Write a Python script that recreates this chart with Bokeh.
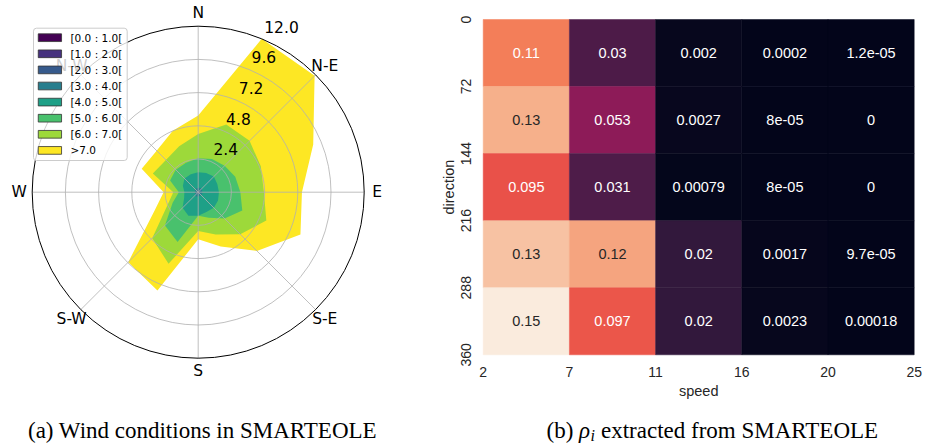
import math
from bokeh.plotting import figure
from bokeh.models import Range1d, LinearColorMapper, ColumnDataSource
from bokeh.core.properties import value
from bokeh.palettes import viridis
from bokeh.embed import file_html
from bokeh.resources import INLINE

# ---------------- (a) wind rose data ----------------
# 16 sectors, clockwise from North: N, NNE, NE, ENE, E, ESE, SE, SSE, S, SSW, SW, WSW, W, WNW, NW, NNW
bearings = [i * 22.5 for i in range(16)]
speed_bins = ["[0.0 : 1.0[", "[1.0 : 2.0[", "[2.0 : 3.0[", "[3.0 : 4.0[",
              "[4.0 : 5.0[", "[5.0 : 6.0[", "[6.0 : 7.0[", ">7.0"]
# cumulative frequency (%) up to the upper edge of each speed bin
cum_le1 = [0.01] * 16
cum_le2 = [0.04, 0.05, 0.05, 0.04, 0.04, 0.04, 0.04, 0.04, 0.04, 0.05, 0.04, 0.03, 0.03, 0.03, 0.04, 0.04]
cum_le3 = [0.12, 0.14, 0.14, 0.12, 0.12, 0.12, 0.12, 0.12, 0.12, 0.14, 0.12, 0.10, 0.10, 0.10, 0.12, 0.12]
cum_le4 = [0.30, 0.35, 0.35, 0.30, 0.30, 0.30, 0.30, 0.30, 0.30, 0.35, 0.30, 0.25, 0.25, 0.25, 0.30, 0.30]
cum_le5 = [1.45, 1.50, 1.60, 1.50, 1.50, 1.55, 1.60, 1.55, 1.70, 1.85, 1.60, 1.10, 1.00, 1.20, 1.40, 1.40]
cum_le6 = [2.45, 2.60, 2.70, 2.90, 3.05, 3.45, 2.70, 2.00, 1.70, 3.90, 3.40, 2.00, 1.40, 2.20, 2.30, 2.30]
cum_le7 = [4.20, 5.30, 5.25, 4.90, 4.75, 5.33, 4.30, 3.30, 2.80, 5.60, 4.70, 2.40, 1.80, 3.55, 3.30, 3.60]
cum_all = [5.55, 12.00, 11.90, 9.00, 7.50, 8.00, 6.00, 4.25, 3.40, 7.70, 7.15, 3.40, 2.50, 4.42, 4.25, 4.80]
radial_ticks = [2.4, 4.8, 7.2, 9.6, 12.0]
compass_labels = ["N", "N-E", "E", "S-E", "S", "S-W", "W", "N-W"]
compass_bearings = [0, 45, 90, 135, 180, 225, 270, 315]

# ---------------- (b) heatmap data ----------------
speed_edges = [2, 7, 11, 16, 20, 25]
direction_edges = [0, 72, 144, 216, 288, 360]
rho = [
    [0.110, 0.030, 0.0020, 0.00020, 1.2e-05],
    [0.127, 0.053, 0.0027, 8e-05, 0.0],
    [0.095, 0.031, 0.00079, 8e-05, 0.0],
    [0.134, 0.123, 0.020, 0.0017, 9.7e-05],
    [0.150, 0.097, 0.020, 0.0023, 0.00018],
]

# ---------------- canvas geometry (screen px) ----------------
W, H = 947, 447
CX, CY = 197.7, 191.7           # wind-rose centre
K = 166.0 / 12.0                # px per percent on the rose
HX0, HX1 = 482.7, 913.7         # heatmap cell area, left/right
HY0, HY1 = 19.0, 354.3          # heatmap cell area, top/bottom
CW = (HX1 - HX0) / 5.0
CH = (HY1 - HY0) / 5.0

p = figure(width=W, height=H,
           x_range=Range1d(-CX / K, (W - CX) / K),
           y_range=Range1d(-(H - CY) / K, CY / K),
           output_backend="svg", toolbar_location=None,
           x_axis_location=None, y_axis_location=None, min_border=0)
p.extra_x_ranges = {"hx": Range1d(-HX0 / CW, (W - HX0) / CW)}
p.extra_y_ranges = {"hy": Range1d(5 + (H - HY1) / CH, -HY0 / CH)}
p.grid.visible = False
p.outline_line_color = None
p.background_fill_color = "white"


def sx(px):   # screen px -> rose data x
    return (px - CX) / K


def sy(py):   # screen px -> rose data y
    return (CY - py) / K


def pol(r, b):
    a = math.radians(b)
    return r * math.sin(a), r * math.cos(a)


# ================= (a) wind rose =================
layers = [cum_le1, cum_le2, cum_le3, cum_le4, cum_le5, cum_le6, cum_le7, cum_all]
cols = viridis(8)
for vals, col in reversed(list(zip(layers, cols))):
    pts = [pol(r, b) for r, b in zip(vals, bearings)]
    p.patch([q[0] for q in pts], [q[1] for q in pts], fill_color=col, line_color=None)

rmax = radial_ticks[-1]
p.circle(x=[0] * 4, y=[0] * 4, radius=radial_ticks[:-1], fill_color=None,
         line_color="#b0b0b0", line_width=0.8)
ends = [pol(rmax, b) for b in compass_bearings]
p.segment(x0=[0] * 8, y0=[0] * 8, x1=[e[0] for e in ends], y1=[e[1] for e in ends],
          line_color="#b0b0b0", line_width=0.8)
p.circle(x=[0], y=[0], radius=[rmax], fill_color=None, line_color="black", line_width=1)

lab_r = 179.0 / K
lp = [pol(lab_r, b) for b in compass_bearings]
p.text(x=[q[0] for q in lp], y=[q[1] for q in lp], text=compass_labels,
       text_font=value("DejaVu Sans"), text_font_size="15.5px", text_color="black",
       text_align="center", text_baseline="middle")

rp = [pol(r, 22.5) for r in radial_ticks]
p.text(x=[q[0] + 2.5 / K for q in rp], y=[q[1] + 12.3 / K for q in rp],
       text=["%.1f" % r for r in radial_ticks],
       text_font=value("DejaVu Sans"), text_font_size="15.5px", text_color="black",
       text_align="left", text_baseline="middle")

# legend (semi-transparent box, drawn over the N-W label like matplotlib)
p.quad(left=sx(33), right=sx(126.7), top=sy(27.7), bottom=sy(160),
       fill_color="white", fill_alpha=0.8, line_color="#cccccc", line_width=1,
       border_radius=3)
ly = [sy(37.2 + 16.1 * i) for i in range(len(speed_bins))]
p.rect(x=[sx(49.4)] * len(speed_bins), y=ly, width=23.3 / K, height=7.7 / K,
       fill_color=cols, line_color="#333333", line_width=0.8)
p.text(x=[sx(70)] * len(speed_bins), y=ly, text=speed_bins,
       text_font=value("DejaVu Sans"), text_font_size="10.5px", text_color="black",
       text_align="left", text_baseline="middle")

# ================= (b) heatmap =================
anchors = ['#03051A', '#35193E', '#701F57', '#AD1759', '#E13342', '#F37651', '#F6B48F', '#FAEBDD']


def hx(c):
    return [int(c[i:i + 2], 16) for i in (1, 3, 5)]


rocket = []
for i in range(256):
    t = i / 255 * 7
    k0 = min(int(t), 6)
    f = t - k0
    a, b = hx(anchors[k0]), hx(anchors[k0 + 1])
    rocket.append('#%02x%02x%02x' % tuple(round(a[j] + (b[j] - a[j]) * f) for j in range(3)))

vmax = max(max(r) for r in rho)
mapper = LinearColorMapper(palette=rocket, low=0, high=vmax)

xs, ys, vs, labs, tcs = [], [], [], [], []
for i, rowv in enumerate(rho):
    for j, v in enumerate(rowv):
        xs.append(j + 0.5)
        ys.append(i + 0.5)
        vs.append(v)
        labs.append(format(v, ".2g"))
        idx = min(255, int(v / vmax * 256))
        rgb = [c / 255 for c in hx(rocket[idx])]
        lin = [c / 12.92 if c <= 0.03928 else ((c + 0.055) / 1.055) ** 2.4 for c in rgb]
        lum = 0.2126 * lin[0] + 0.7152 * lin[1] + 0.0722 * lin[2]
        tcs.append("#262626" if lum > 0.408 else "white")
src = ColumnDataSource(dict(x=xs, y=ys, v=vs, lab=labs, tc=tcs))

p.rect(x="x", y="y", width=1, height=1, source=src, x_range_name="hx", y_range_name="hy",
       fill_color={"field": "v", "transform": mapper},
       line_color={"field": "v", "transform": mapper}, line_width=0.5)
p.text(x="x", y="y", text="lab", text_color="tc", source=src, x_range_name="hx", y_range_name="hy",
       text_font=value("Liberation Sans"), text_font_size="14.5px",
       text_align="center", text_baseline="middle")

tick_col = "#262626"
# x tick labels (bin edges of speed) and axis label
p.text(x=list(range(len(speed_edges))), y=[5 + 17.4 / CH] * len(speed_edges),
       text=[str(s) for s in speed_edges], x_range_name="hx", y_range_name="hy",
       text_font=value("Liberation Sans"), text_font_size="14px", text_color=tick_col,
       text_align="center", text_baseline="middle")
p.text(x=[2.5], y=[5 + 36.0 / CH], text=["speed"], x_range_name="hx", y_range_name="hy",
       text_font=value("Liberation Sans"), text_font_size="14.5px", text_color=tick_col,
       text_align="center", text_baseline="middle")
# y tick labels (bin edges of direction), rotated, and axis label
p.text(x=[-17.7 / CW] * len(direction_edges), y=list(range(len(direction_edges))),
       text=[str(d) for d in direction_edges], angle=math.pi / 2,
       x_range_name="hx", y_range_name="hy",
       text_font=value("Liberation Sans"), text_font_size="14px", text_color=tick_col,
       text_align="center", text_baseline="middle")
p.text(x=[-34.4 / CW], y=[2.5], text=["direction"], angle=math.pi / 2,
       x_range_name="hx", y_range_name="hy",
       text_font=value("Liberation Sans"), text_font_size="14.5px", text_color=tick_col,
       text_align="center", text_baseline="middle")

# ================= captions =================
cap_font = value("Liberation Serif")
cap_size = "23px"
mid = sy(430)
p.text(x=[sx(202)], y=[mid], text=["(a) Wind conditions in SMARTEOLE"],
       text_font=cap_font, text_font_size=cap_size, text_color="black",
       text_align="center", text_baseline="middle")
bx = 546
p.text(x=[sx(bx)], y=[mid], text=["(b)"], text_font=cap_font, text_font_size=cap_size,
       text_color="black", text_align="left", text_baseline="middle")
p.text(x=[sx(bx + 32.5)], y=[mid], text=["ρ"], text_font=cap_font, text_font_size=cap_size,
       text_font_style="italic", text_color="black", text_align="left", text_baseline="middle")
p.text(x=[sx(bx + 44)], y=[sy(435)], text=["i"], text_font=cap_font, text_font_size="16px",
       text_font_style="italic", text_color="black", text_align="left", text_baseline="middle")
p.text(x=[sx(bx + 54.5)], y=[mid], text=["extracted from SMARTEOLE"], text_font=cap_font,
       text_font_size=cap_size, text_color="black", text_align="left", text_baseline="middle")

open("out.html", "w").write(file_html(p, INLINE))
